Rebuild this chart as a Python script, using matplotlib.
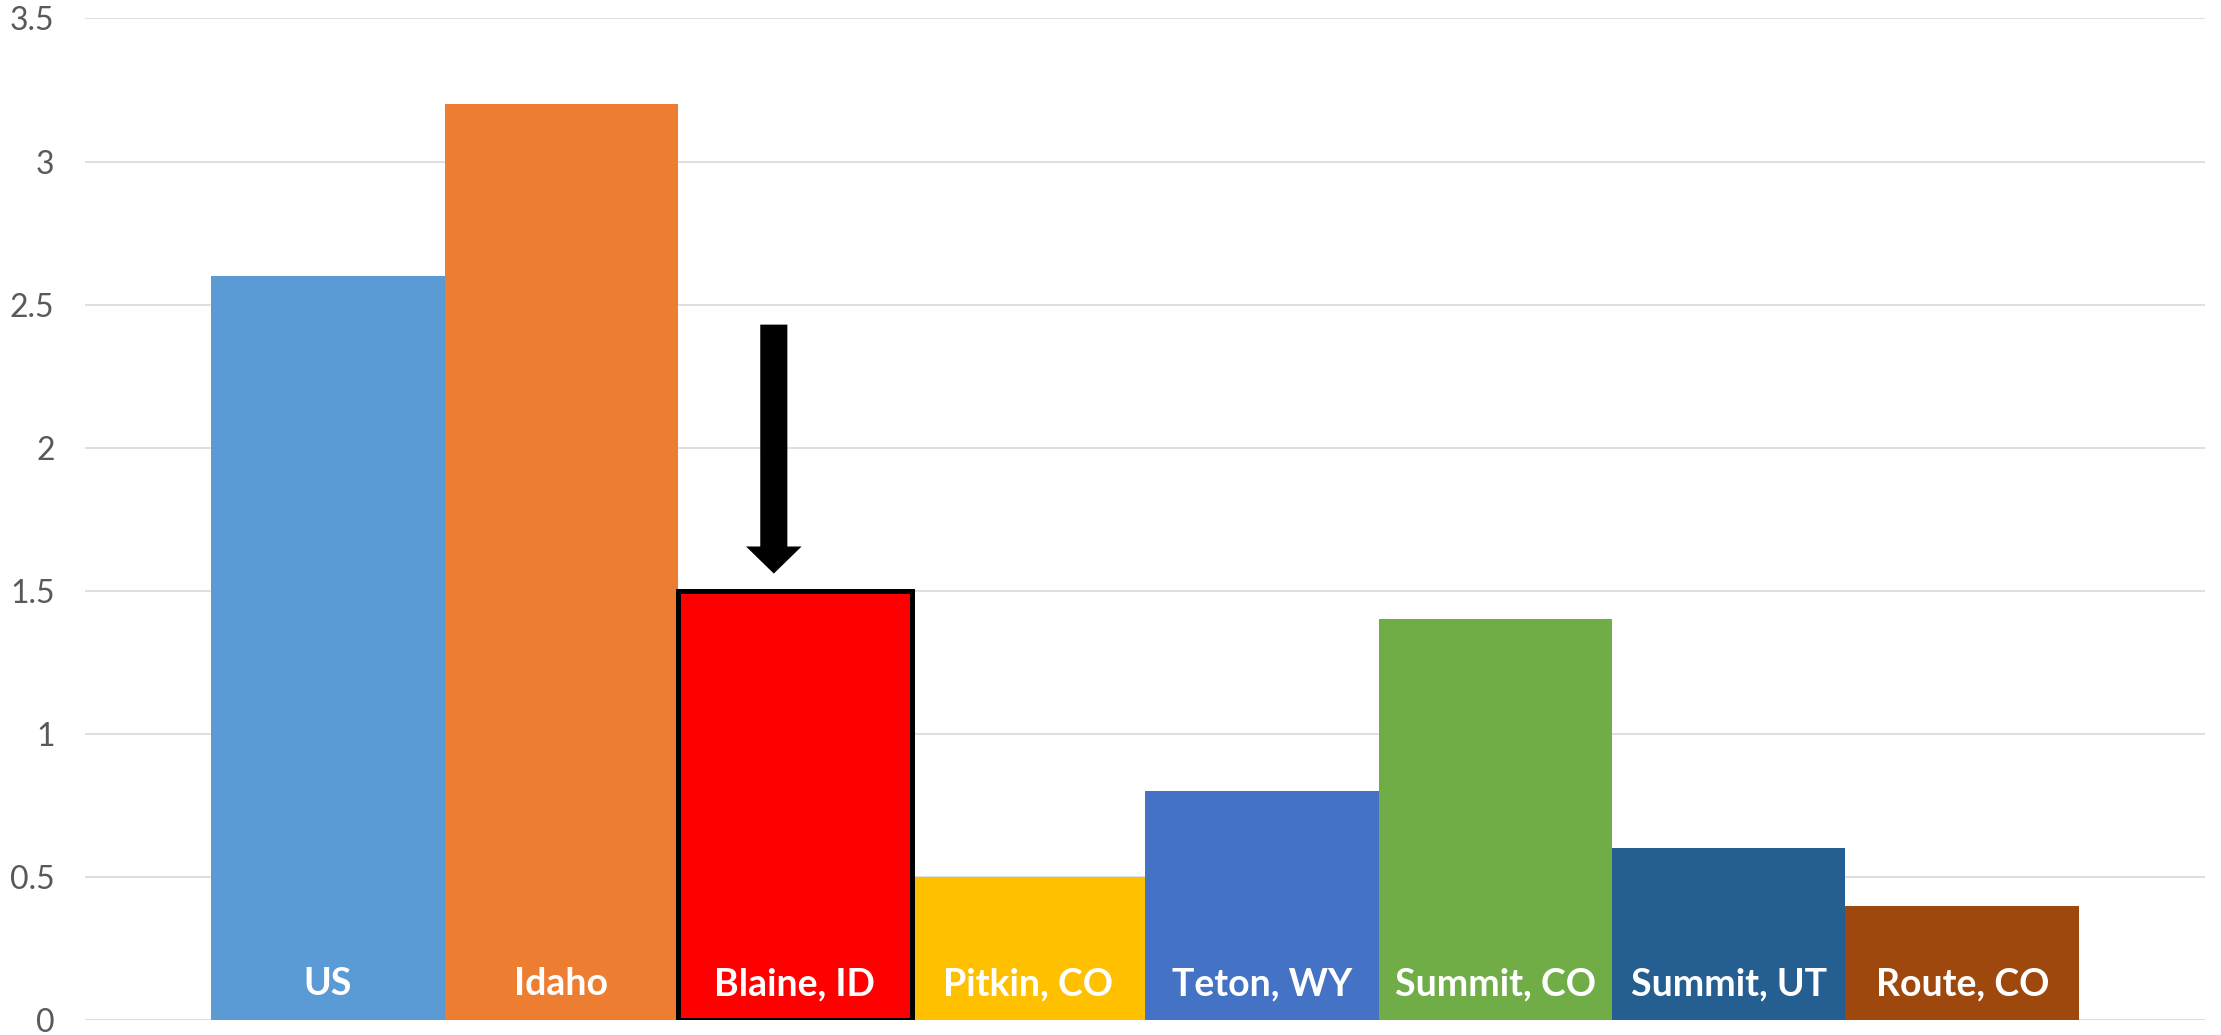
from matplotlib import pyplot as plt

# data
regions = ["US", "Idaho", "Blaine, ID", "Pitkin, CO", "Teton, WY", "Summit, CO", "Summit, UT", "Route, CO"]
values = [2.6, 3.2, 1.5, 0.5, 0.8, 1.4, 0.6, 0.4]
colors = ["#5B9BD5", "#ED7D31", "#FF0000", "#FFC000", "#4472C4", "#70AD47", "#255E91", "#9E480E"]
yticks = [0, 0.5, 1, 1.5, 2, 2.5, 3, 3.5]
ytick_labels = ["0", "0.5", "1", "1.5", "2", "2.5", "3", "3.5"]
highlight = 2

plt.rcParams["font.family"] = ["Lato", "DejaVu Sans"]

fig = plt.figure(figsize=(22.21, 10.35), dpi=100)
ax = fig.add_axes([0.0383, 0.0145, 0.9545, 0.9677])

x = list(range(len(regions)))
bars = ax.bar(x, values, width=1.0, color=colors, linewidth=0, zorder=2)
bars[highlight].set_edgecolor("black")
bars[highlight].set_linewidth(3.6)
bars[highlight].set_zorder(3)

for xi, name in zip(x, regions):
    ax.text(xi, 0.125, name, ha="center", va="center", color="white",
            fontsize=27, fontweight="bold", zorder=4)

# arrow pointing at Blaine
ax.annotate("", xy=(1.91, 1.56), xytext=(1.91, 2.43),
            arrowprops=dict(facecolor="black", edgecolor="none", width=19.5,
                            headwidth=40, headlength=19.5, shrink=0))

ax.set_xlim(-1.04, 8.04)
ax.set_ylim(0, 3.5)
ax.set_xticks([])
ax.set_yticks(yticks)
ax.set_yticklabels(ytick_labels)
ax.tick_params(axis="y", length=0, pad=22, labelsize=23, labelcolor="#595959")
ax.grid(axis="y", color="#D9D9D9", linewidth=1.2, zorder=0)
ax.set_axisbelow(True)
for s in ax.spines.values():
    s.set_visible(False)

fig.savefig("out.png", dpi=100)
